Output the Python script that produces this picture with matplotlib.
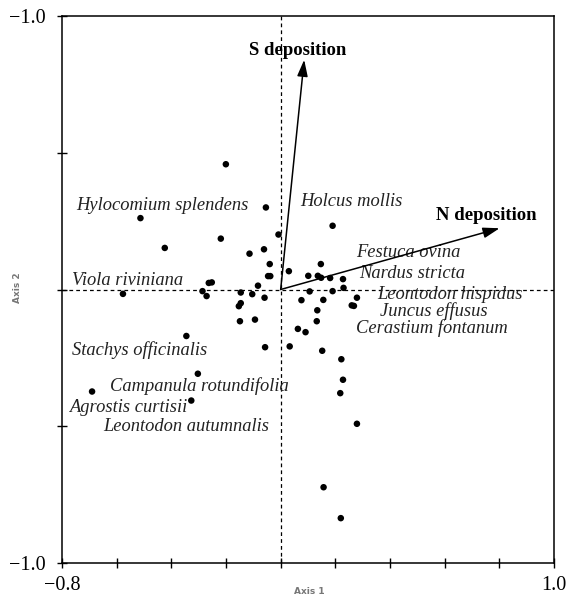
import matplotlib
matplotlib.use("Agg")
import matplotlib.pyplot as plt

# Species scores (Axis 1, Axis 2)
xs = [-0.2005, -0.513, -0.054, -0.219, -0.424, -0.008, -0.114, -0.061, -0.040, -0.046,
      -0.038, 0.030, -0.263, -0.252, -0.083, -0.577, -0.286, -0.271, -0.146, -0.104,
      -0.059, -0.153, -0.146, -0.149, -0.094, -0.345, -0.057, 0.033, -0.303, -0.690,
      -0.327, 0.190, 0.147, 0.101, 0.136, 0.148, 0.181, 0.228, 0.106, 0.190,
      0.230, 0.076, 0.156, 0.279, 0.260, 0.268, 0.134, 0.132, 0.063, 0.091,
      0.152, 0.222, 0.228, 0.218, 0.279, 0.157, 0.220]
ys = [0.458, 0.261, 0.300, 0.186, 0.152, 0.201, 0.131, 0.147, 0.093, 0.049,
      0.049, 0.067, 0.024, 0.026, 0.014, -0.016, -0.006, -0.024, -0.011, -0.017,
      -0.030, -0.061, -0.050, -0.116, -0.110, -0.170, -0.211, -0.208, -0.308, -0.373,
      -0.406, 0.233, 0.093, 0.050, 0.050, 0.043, 0.042, 0.038, -0.007, -0.006,
      0.006, -0.039, -0.038, -0.030, -0.058, -0.060, -0.076, -0.116, -0.144, -0.156,
      -0.224, -0.255, -0.330, -0.379, -0.491, -0.723, -0.836]

# Environmental vectors
vec_names = ["S deposition", "N deposition"]
vec_x = [0.086, 0.801]
vec_y = [0.840, 0.224]
vec_label_x = [-0.115, 0.570]
vec_label_y = [0.875, 0.270]

# Species labels
sp_names = ["Hylocomium splendens", "Holcus mollis", "Festuca ovina", "Nardus stricta",
            "Viola riviniana", "Leontodon hispidus", "Juncus effusus", "Cerastium fontanum",
            "Stachys officinalis", "Campanula rotundifolia", "Agrostis curtisii",
            "Leontodon autumnalis"]
sp_x = [-0.748, 0.073, 0.277, 0.288, -0.763, 0.353, 0.364, 0.277,
        -0.763, -0.624, -0.774, -0.651]
sp_y = [0.307, 0.322, 0.136, 0.059, 0.033, -0.020, -0.080, -0.141,
        -0.220, -0.354, -0.431, -0.500]

x_ticks = [-0.8, -0.6, -0.4, -0.2, 0.0, 0.2, 0.4, 0.6, 0.8, 1.0]
x_ticklabels = ["\u22120.8", "", "", "", "", "", "", "", "", "1.0"]
y_ticks = [-1.0, -0.5, 0.0, 0.5, 1.0]
y_ticklabels = ["\u22121.0", "", "", "", "\u22121.0"]

serif = ["Liberation Serif", "DejaVu Serif"]

fig = plt.figure(figsize=(5.70, 5.99), dpi=100)
ax = fig.add_axes([62/570, 36/599, 492/570, 547/599])
ax.set_xlim(-0.8, 1.0)
ax.set_ylim(-1.0, 1.0)

ax.axvline(0, color="black", lw=0.9, ls=(0, (3, 2.5)), zorder=1)
ax.axhline(0, color="black", lw=0.9, ls=(0, (3, 2.5)), zorder=1)

ax.scatter(xs, ys, s=22, color="black", edgecolors="none", zorder=3)

for name, vx, vy, lx, ly in zip(vec_names, vec_x, vec_y, vec_label_x, vec_label_y):
    ax.annotate("", xy=(vx, vy), xytext=(0, 0),
                arrowprops=dict(arrowstyle="-|>,head_length=1.0,head_width=0.32",
                                color="black", lw=1.1, shrinkA=0, shrinkB=0),
                zorder=4)
    ax.text(lx, ly, name, fontsize=13.5, fontweight="bold", family=serif,
            ha="left", va="center")

for name, tx, ty in zip(sp_names, sp_x, sp_y):
    ax.text(tx, ty, name, fontsize=13.3, fontstyle="italic", family=serif,
            ha="left", va="center", color="#222222")

ax.set_xticks(x_ticks)
ax.set_xticklabels(x_ticklabels, family=serif, fontsize=14.5)
ax.set_yticks(y_ticks)
ax.set_yticklabels(y_ticklabels, family=serif, fontsize=14.5)
ax.tick_params(axis="y", direction="inout", length=7, width=1, pad=8)
ax.tick_params(axis="x", direction="inout", length=7, width=1, pad=6)

for sp in ax.spines.values():
    sp.set_linewidth(1.1)

fig.text(309/570, 1 - 592/599, "Axis 1", fontsize=6.5, fontweight="bold",
         color="#777777", ha="center", va="center")
fig.text(17/570, 1 - 288/599, "Axis 2", fontsize=6.5, fontweight="bold",
         color="#777777", ha="center", va="center", rotation=90)

fig.savefig("out.png", dpi=100)
